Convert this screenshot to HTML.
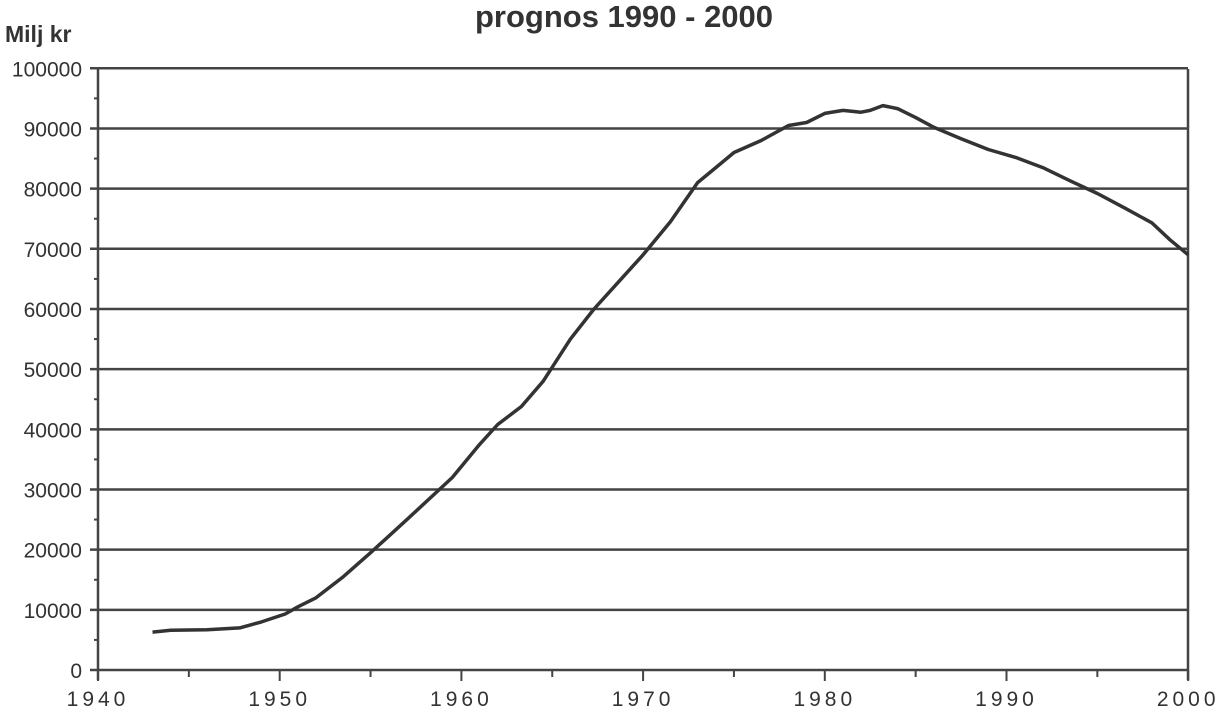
<!DOCTYPE html>
<html><head><meta charset="utf-8"><style>
html,body{margin:0;padding:0;background:#fff;width:1217px;height:714px;overflow:hidden}
svg{display:block}
text{font-family:"Liberation Sans",sans-serif;fill:#333}
</style></head><body>
<svg id="s" width="1217" height="714" xmlns="http://www.w3.org/2000/svg">
<text x="624" y="27" font-size="31" font-weight="bold" text-anchor="middle">prognos 1990 - 2000</text>
<text x="5" y="42" font-size="23" font-weight="bold">Milj kr</text>
<g id="g"></g>
</svg>
<script>
var g=document.getElementById('g');
function X(y){return 98+18.17*(y-1940)}
function Y(v){return 670-0.006017*v}
var h='';
for(var i=0;i<=10;i++){var y=Y(i*10000);
h+='<line x1="90" x2="1188" y1="'+y+'" y2="'+y+'" stroke="#444" stroke-width="2.5"/>';
h+='<text x="82" y="'+(y+8)+'" font-size="21" text-anchor="end">'+(i*10000)+'</text>';
if(i<10){var m=Y(i*10000+5000);h+='<line x1="94" x2="98" y1="'+m+'" y2="'+m+'" stroke="#444" stroke-width="2"/>';}}
h+='<line x1="98" x2="98" y1="69" y2="680" stroke="#444" stroke-width="2.5"/>';
h+='<line x1="1188" x2="1188" y1="69" y2="680" stroke="#444" stroke-width="2.5"/>';
for(var yr=1940;yr<=2000;yr+=5){var x=X(yr);h+='<line x1="'+x+'" x2="'+x+'" y1="670" y2="'+(yr%10?677:681)+'" stroke="#444" stroke-width="2"/>';
if(yr%10==0)h+='<text x="'+x+'" y="706" font-size="21" text-anchor="middle" letter-spacing="4">'+yr+'</text>';}
var d=[[1943,6300],[1944,6600],[1946,6700],[1947.8,7000],[1949,8000],[1950.3,9300],[1951,10500],[1952,12000],[1953.5,15500],[1955,19500],[1957,25000],[1959.5,32000],[1961,37500],[1962,40800],[1963.3,43800],[1964.5,48000],[1966,55000],[1967.3,60000],[1968.5,64000],[1970,69000],[1971.5,74500],[1973,81000],[1974,83500],[1975,86000],[1976.5,88000],[1978,90500],[1979,91000],[1980,92500],[1981,93000],[1982,92700],[1982.5,93000],[1983.2,93800],[1984,93300],[1985,91800],[1986,90200],[1987.5,88300],[1989,86500],[1990.5,85200],[1992,83500],[1993.5,81300],[1995,79200],[1996.5,76800],[1998,74300],[1999,71500],[2000,69000]];
var p='M'+d.map(function(q){return X(q[0]).toFixed(1)+','+Y(q[1]).toFixed(1)}).join(' L');
h+='<path d="'+p+'" fill="none" stroke="#333" stroke-width="3.5" stroke-linejoin="round"/>';
g.innerHTML=h;
</script>
</body></html>
